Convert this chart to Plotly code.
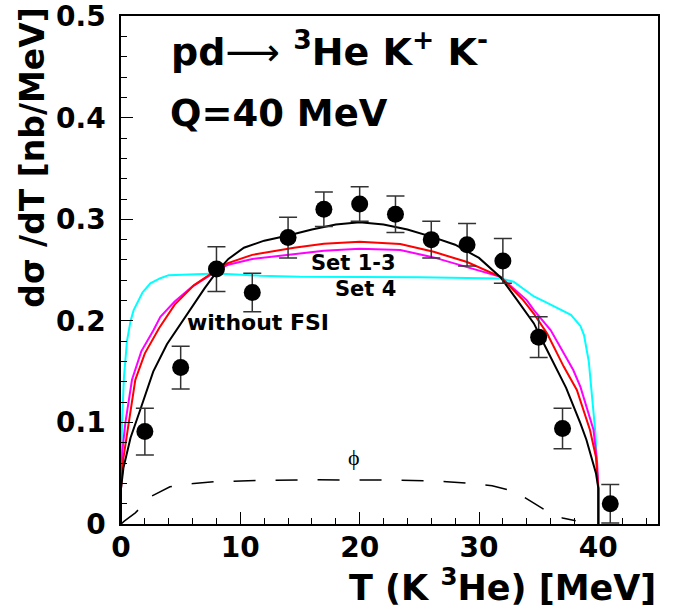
import plotly.graph_objects as go

# ---- data ----
T_data = [2, 5, 8, 11, 14, 17, 20, 23, 26, 29, 32, 35, 37, 41]
sig_data = [0.091, 0.154, 0.251, 0.228, 0.282, 0.310, 0.315, 0.305, 0.280, 0.275, 0.259, 0.184, 0.094, 0.020]
sig_err = [0.023, 0.021, 0.022, 0.019, 0.020, 0.017, 0.017, 0.018, 0.018, 0.021, 0.022, 0.020, 0.020, 0.019]

x_ticks = [0, 10, 20, 30, 40]
y_ticks = [0, 0.1, 0.2, 0.3, 0.4, 0.5]
y_tick_labels = ["0", "0.1", "0.2", "0.3", "0.4", "0.5"]

x_nofsi = [0, 0, 0.2, 0.8, 1.6, 2.7, 3.85, 5, 6, 7, 8, 9, 10.3, 12, 14, 16, 18, 20, 22, 24, 26, 28, 30, 31.8,
           33.2, 34.6, 35.5, 36.5, 37.3, 38.5, 39.0, 39.8, 40, 40]
y_nofsi = [0, 0.035, 0.055, 0.085, 0.112, 0.150, 0.177, 0.197, 0.214, 0.232, 0.248, 0.261, 0.272, 0.279, 0.284,
           0.290, 0.295, 0.297, 0.295, 0.290, 0.283, 0.275, 0.262, 0.243, 0.2205, 0.1975, 0.176, 0.152, 0.134,
           0.099, 0.083, 0.05, 0.035, 0]

x_set13 = [0, 0, 0.2, 0.64, 1.2, 2.0, 3.2, 4.5, 6.1, 8, 8.9, 11, 14.5, 17, 20, 23.4, 26.2, 29, 31.8, 33.7, 34.6,
           35.7, 37.1, 38.2, 39.3, 39.8, 40, 40]
y_set13 = [0, 0.035, 0.065, 0.099, 0.142, 0.168, 0.193, 0.216, 0.235, 0.250, 0.2566, 0.265, 0.272, 0.276, 0.278,
           0.2756, 0.268, 0.258, 0.2434, 0.2205, 0.207, 0.1877, 0.155, 0.132, 0.0925, 0.066, 0.035, 0]

x_set13b = [0, 0, 0.1, 0.36, 0.92, 1.7, 2.73, 3.3, 4.5, 6, 8, 8.9, 11, 14.5, 17, 20, 23.4, 26.2, 29, 31.8, 34.0,
            34.6, 36.0, 37.9, 38.5, 39.6, 39.9, 40, 40]
y_set13b = [0, 0.035, 0.07, 0.099, 0.142, 0.17, 0.191, 0.204, 0.219, 0.234, 0.249, 0.255, 0.261, 0.266, 0.269,
            0.271, 0.2697, 0.2625, 0.2533, 0.2434, 0.2205, 0.2106, 0.191, 0.1516, 0.135, 0.0925, 0.06, 0.035, 0]

x_set4 = [0, 0, 0.08, 0.25, 0.5, 0.8, 1.06, 1.8, 2.46, 3.3, 4, 6, 8, 11.7, 15, 25, 31.8, 32.9, 34.6, 35.5, 36.3,
          37.7, 38.5, 38.8, 39.2, 39.5, 39.76, 39.9, 40, 40]
y_set4 = [0, 0.035, 0.099, 0.145, 0.18, 0.200, 0.2106, 0.228, 0.237, 0.242, 0.245, 0.2458, 0.2467, 0.2445,
          0.2434, 0.243, 0.2418, 0.2385, 0.224, 0.219, 0.214, 0.206, 0.195, 0.186, 0.16, 0.12, 0.089, 0.05, 0.035, 0]

x_phi = [0, 0.3, 1.2, 2.6, 4.1, 6.1, 8, 12, 16, 20, 21.7, 25.4, 27.3, 29.3, 31.1, 33.05, 34.6, 36.1, 37, 38.1]
y_phi = [0, 0.003, 0.011, 0.0276, 0.0367, 0.040, 0.0417, 0.043, 0.0435, 0.0435, 0.0433, 0.0426, 0.0417, 0.040,
         0.0377, 0.0318, 0.0204, 0.0095, 0.006, 0.0033]

FONT = "DejaVu Sans"

fig = go.Figure()
fig.add_trace(go.Scatter(x=x_phi, y=y_phi, mode="lines",
                         line=dict(color="black", width=1.5, dash="22px,20px")))
fig.add_trace(go.Scatter(x=x_set4, y=y_set4, mode="lines", line=dict(color="#00FFFF", width=2)))
fig.add_trace(go.Scatter(x=x_set13b, y=y_set13b, mode="lines", line=dict(color="#FF00FF", width=2)))
fig.add_trace(go.Scatter(x=x_set13, y=y_set13, mode="lines", line=dict(color="#FF0000", width=2)))
fig.add_trace(go.Scatter(x=x_nofsi, y=y_nofsi, mode="lines", line=dict(color="black", width=2)))
fig.add_trace(go.Scatter(x=T_data, y=sig_data, mode="markers",
                         marker=dict(color="black", size=17),
                         error_y=dict(type="data", array=sig_err, color="#333333", thickness=1.5, width=9)))

axis_common = dict(showline=True, linecolor="black", linewidth=1.5, mirror=True,
                   ticks="inside", ticklen=12, tickcolor="black", tickwidth=1,
                   showgrid=False, zeroline=False, automargin=False,
                   tickfont=dict(family=FONT, size=28, color="black", weight="bold"))

fig.update_xaxes(range=[0, 45], tickmode="array", tickvals=x_ticks,
                 minor=dict(ticks="inside", ticklen=6, dtick=2, tick0=0, tickcolor="black"),
                 ticklabelstandoff=-2, **axis_common)
fig.update_yaxes(range=[0, 0.5002], tickmode="array", tickvals=y_ticks, ticktext=y_tick_labels,
                 minor=dict(ticks="inside", ticklen=6, dtick=0.02, tick0=0, tickcolor="black"),
                 ticklabelstandoff=8, **axis_common)

bold = dict(family=FONT, color="black", weight="bold")
ann = [
    dict(text="pd<span style='font-weight:normal'>⟶</span> <sup>3</sup>He K<sup>+</sup> K<sup>-</sup>",
         x=4.0, y=0.468, xref="x", yref="y", xanchor="left", yanchor="middle",
         showarrow=False, font=dict(size=38, **bold)),
    dict(text="Q=40 MeV", x=3.96, y=0.404, xref="x", yref="y", xanchor="left", yanchor="middle",
         showarrow=False, font=dict(size=37, **bold)),
    dict(text="Set 1-3", x=23.19, y=0.257, xref="x", yref="y", xanchor="right", yanchor="middle",
         showarrow=False, font=dict(size=21, **bold)),
    dict(text="Set 4", x=23.19, y=0.231, xref="x", yref="y", xanchor="right", yanchor="middle",
         showarrow=False, font=dict(size=21, **bold)),
    dict(text="without FSI", x=5.39, y=0.198, xref="x", yref="y", xanchor="left", yanchor="middle",
         showarrow=False, font=dict(size=22, **bold)),
    dict(text="ϕ", x=19.5, y=0.065, xref="x", yref="y", xanchor="center", yanchor="middle",
         showarrow=False, font=dict(family="Liberation Serif", size=22, color="black")),
    dict(text="T (K <sup>3</sup>He) [MeV]", x=1.0, y=-0.12, xref="paper", yref="paper",
         xanchor="right", yanchor="middle", showarrow=False, font=dict(size=35, **bold)),
    dict(text="dσ /dT [nb/MeV]", x=-0.165, y=1.022, xref="paper", yref="paper",
         xanchor="center", yanchor="top", textangle=-90, showarrow=False, font=dict(size=33, **bold)),
]

fig.update_layout(width=680, height=615, margin=dict(l=121, r=22, t=16, b=91, autoexpand=False),
                  paper_bgcolor="white", plot_bgcolor="white", showlegend=False,
                  annotations=ann)

fig.write_html("out.html", config={"displayModeBar": False},
               post_script="document.body.style.margin='0';document.body.style.overflow='hidden';")
